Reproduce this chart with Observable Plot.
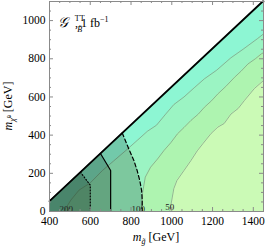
<!DOCTYPE html>
<html><head><meta charset="utf-8">
<script src="https://cdn.jsdelivr.net/npm/d3@7"></script>
<script src="https://cdn.jsdelivr.net/npm/@observablehq/plot@0.6"></script>
<style>html,body{margin:0;padding:0;background:#fff;} svg{display:block;}</style>
</head><body><div id="chart"></div>
<script>
// ---- data (GeV) ----
const xDomain = [400, 1450];
const yDomain = [0, 1100];
const xMajor = [400, 600, 800, 1000, 1200, 1400];
const xMinor = [450, 500, 550, 650, 700, 750, 850, 900, 950, 1050, 1100, 1150, 1250, 1300, 1350];
const yMajor = [0, 200, 400, 600, 800, 1000];
const yMinor = [50, 100, 150, 250, 300, 350, 450, 500, 550, 650, 700, 750, 850, 900, 950, 1050];

// kinematic boundary m_chi = m_gluino - 2 m_top
const kinematicEdge = [[400, 54], [1446, 1100], [1450, 1100]];

// significance contours [m_gluino, m_chi]
const contour200 = [[470, 0], [505, 60], [545, 112], [600, 150], [660, 215], [715, 265], [775, 320], [830, 372], [880, 420], [925, 452], [970, 510], [1010, 560], [1060, 600], [1110, 648], [1160, 695], [1220, 740], [1290, 805], [1350, 850], [1420, 905], [1450, 930]];
const contour100 = [[850, 0], [857, 100], [870, 180], [896, 232], [930, 275], [962, 320], [995, 360], [1028, 407], [1060, 440], [1094, 477], [1130, 510], [1160, 546], [1195, 580], [1226, 616], [1265, 655], [1308, 703], [1340, 735], [1374, 773], [1410, 800], [1440, 826], [1450, 832]];
const contour50 = [[990, 0], [1000, 60], [1010, 120], [1025, 162], [1060, 215], [1094, 267], [1125, 318], [1153, 356], [1193, 409], [1226, 442], [1257, 461], [1290, 510], [1326, 540], [1356, 581], [1405, 644], [1450, 686]];
const contourLabels = [{x: 482, y: 14, t: "200"}, {x: 835, y: 14, t: "100"}, {x: 990, y: 24, t: "50"}];

// exclusion regions (below kinematic edge)
const dashedRegion = [[400, 54], [757, 411], [789, 328], [814, 267], [830, 215], [843, 162], [852, 110], [855, 58], [855, 0]];
const solidRegion = [[400, 54], [650, 304], [700, 215], [700, 0]];
const dottedRegion = [[400, 54], [552, 206], [600, 138], [600, 0]];
const dashedEdge = [[757, 411], [789, 328], [814, 267], [830, 215], [843, 162], [852, 110], [855, 58], [855, 0], [700, 0]];
const solidEdge = [[650, 304], [700, 215], [700, 0]];
const dottedEdge = [[552, 206], [600, 138], [600, 0]];

const bandColors = ["#8df6d3", "#9bf4c3", "#aef4b0", "#cbfab6"];
const shade = "#23452f";

// ---- layout ----
const W = 266, H = 249;
const mL = 49, mR = 3, mT = 1, mB = 38;
const iW = W - mL - mR, iH = H - mT - mB;
const serif = "'Liberation Serif', 'DejaVu Serif', serif";
const X = d => d[0], Y = d => d[1];

const chart = Plot.plot({
  width: W, height: H,
  marginLeft: mL, marginRight: mR, marginTop: mT, marginBottom: mB,
  x: {domain: xDomain},
  y: {domain: yDomain},
  style: {fontFamily: serif, background: "white", color: "black"},
  marks: [
    Plot.areaY(kinematicEdge, {x: X, y1: 0, y2: Y, fill: bandColors[0]}),
    Plot.areaX(contour200, {y: Y, x1: X, x2: xDomain[1], fill: bandColors[1]}),
    Plot.areaX(contour100, {y: Y, x1: X, x2: xDomain[1], fill: bandColors[2]}),
    Plot.areaX(contour50, {y: Y, x1: X, x2: xDomain[1], fill: bandColors[3]}),
    Plot.line(contour200, {x: X, y: Y, stroke: "#6f8f80", strokeWidth: 0.8, strokeOpacity: 0.8}),
    Plot.line(contour100, {x: X, y: Y, stroke: "#6f8f80", strokeWidth: 0.8, strokeOpacity: 0.8}),
    Plot.line(contour50, {x: X, y: Y, stroke: "#6f8f80", strokeWidth: 0.8, strokeOpacity: 0.8}),
    Plot.areaY(dashedRegion, {x: X, y1: 0, y2: Y, fill: shade, fillOpacity: 0.25}),
    Plot.areaY(solidRegion, {x: X, y1: 0, y2: Y, fill: shade, fillOpacity: 0.27}),
    Plot.areaY(dottedRegion, {x: X, y1: 0, y2: Y, fill: shade, fillOpacity: 0.33}),
    Plot.line(dashedEdge, {x: X, y: Y, stroke: "black", strokeWidth: 1.2, strokeDasharray: "4,2.5"}),
    Plot.line(solidEdge, {x: X, y: Y, stroke: "black", strokeWidth: 1.2}),
    Plot.line(dottedEdge, {x: X, y: Y, stroke: "black", strokeWidth: 1.2, strokeDasharray: "1,2"}),
    Plot.line(kinematicEdge, {x: X, y: Y, stroke: "black", strokeWidth: 1.8}),
    Plot.text(contourLabels, {x: "x", y: "y", text: "t", fontSize: 9, fill: "#222"}),
    Plot.frame({stroke: "#8a8a8a", strokeWidth: 1}),
    // major and minor ticks on all four sides (pointing inward)
    Plot.tickX(xMajor, {x: d => d, insetTop: iH - 4, stroke: "#8a8a8a"}),
    Plot.tickX(xMajor, {x: d => d, insetBottom: iH - 4, stroke: "#8a8a8a"}),
    Plot.tickX(xMinor, {x: d => d, insetTop: iH - 2, stroke: "#8a8a8a"}),
    Plot.tickX(xMinor, {x: d => d, insetBottom: iH - 2, stroke: "#8a8a8a"}),
    Plot.tickY(yMajor, {y: d => d, insetRight: iW - 4, stroke: "#8a8a8a"}),
    Plot.tickY(yMajor, {y: d => d, insetLeft: iW - 4, stroke: "#8a8a8a"}),
    Plot.tickY(yMinor, {y: d => d, insetRight: iW - 2, stroke: "#8a8a8a"}),
    Plot.tickY(yMinor, {y: d => d, insetLeft: iW - 2, stroke: "#8a8a8a"}),
    Plot.axisX({ticks: xMajor, tickSize: 0, tickPadding: 5, fontSize: 11.5, label: null, tickFormat: d => String(d)}),
    Plot.axisY({ticks: yMajor, tickSize: 0, tickPadding: 4, fontSize: 11.5, label: null, tickFormat: d => String(d)})
  ]
});
document.getElementById("chart").appendChild(chart);

// ---- rich text labels ----
const svg = d3.select(chart);
const sx = chart.scale("x").apply, sy = chart.scale("y").apply;

// title inside plot
const ax = sx(467), ay = sy(962);
const g = svg.append("g").attr("font-family", serif).attr("fill", "black");
g.append("text").attr("x", ax).attr("y", ay).attr("font-size", 14).attr("font-style", "italic")
  .style("font-family", "'DejaVu Serif', 'DejaVu Sans', serif").text("𝒢");
g.append("text").attr("x", ax + 17).attr("y", ay - 6).attr("font-size", 8).text("TT");
g.append("text").attr("x", ax + 17).attr("y", ay + 5).attr("font-size", 8).attr("font-style", "italic").text("B̃");
const t1 = g.append("text").attr("x", ax + 29).attr("y", ay).attr("font-size", 12);
t1.append("tspan").text(", 1 fb");
t1.append("tspan").attr("font-size", 8).attr("dy", -5).text("−1");

// x label
const xl = g.append("text").attr("x", (mL + W - mR) / 2).attr("y", 241).attr("text-anchor", "middle").attr("font-size", 12);
xl.append("tspan").attr("font-style", "italic").text("m");
xl.append("tspan").attr("font-style", "italic").attr("font-size", 8).attr("dy", 3).text("g̃");
xl.append("tspan").attr("dy", -3).text(" [GeV]");

// y label
const yl = g.append("text").attr("transform", `translate(12,${(mT + H - mB) / 2}) rotate(-90)`)
  .attr("text-anchor", "middle").attr("font-size", 12);
yl.append("tspan").attr("font-style", "italic").text("m");
yl.append("tspan").attr("font-style", "italic").attr("font-size", 8).attr("dy", 3).text("χ̃");
yl.append("tspan").attr("font-size", 6).attr("dy", -4).text("0");
yl.append("tspan").attr("dy", 1).text(" [GeV]");
</script>
</body></html>
